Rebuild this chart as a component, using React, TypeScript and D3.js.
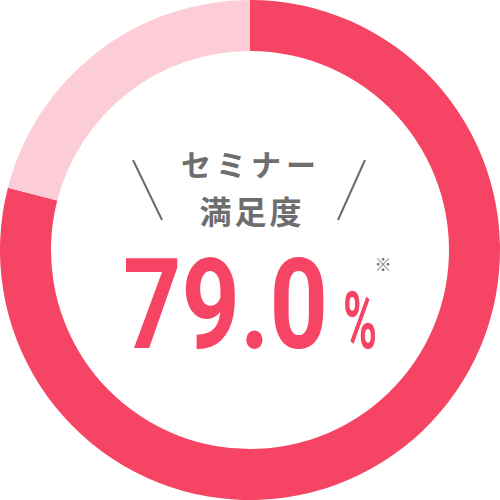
import * as React from 'react'
import * as d3 from 'd3'

// satisfaction share (%), read from the ring
const labels = ['満足', 'その他']
const values = [79.0, 21.0]
const colors = ['#f54464', '#fccdd6']

const titleLines = ['セミナー', '満足度']
const valueText = '79.0'

const App = () => {
    const width = 500
    const height = 500
    const outer = 250
    const inner = 199

    const pie = d3.pie<number>().sort(null).value(d => d)
    const arc = d3.arc<d3.PieArcDatum<number>>().innerRadius(inner).outerRadius(outer)
    const arcs = pie(values)

    return (
        <svg width={width} height={height} style={{ position: 'absolute', left: 0, top: 0 }}>
            <g transform={`translate(${width / 2}, ${height / 2})`}>
                {arcs.map((d, i) => (
                    <path key={labels[i]} d={arc(d) || ''} fill={colors[i]} />
                ))}
            </g>

            <line x1={133} y1={160} x2={162} y2={220} stroke='#6b6b6b' strokeWidth={2} />
            <line x1={365} y1={160} x2={338} y2={220} stroke='#6b6b6b' strokeWidth={2} />

            <text x={251} y={176} textAnchor='middle' fill='#6e6e6e'
                  style={{ fontFamily: '"Noto Sans CJK JP", sans-serif', fontSize: '30px', fontWeight: 700, letterSpacing: '5px' }}>
                {titleLines[0]}
            </text>
            <text x={252} y={224} textAnchor='middle' fill='#6e6e6e'
                  style={{ fontFamily: '"Noto Sans CJK JP", sans-serif', fontSize: '32px', fontWeight: 700, letterSpacing: '3px' }}>
                {titleLines[1]}
            </text>

            <text x={123} y={348} fill={colors[0]} textLength={205} lengthAdjust='spacingAndGlyphs'
                  style={{ fontFamily: 'Roboto, sans-serif', fontSize: '127px', fontWeight: 700 }}>
                {valueText}
            </text>
            <text x={343} y={348} fill={colors[0]} textLength={34} lengthAdjust='spacingAndGlyphs'
                  style={{ fontFamily: 'Roboto, sans-serif', fontSize: '80px', fontWeight: 700 }}>
                %
            </text>
            <text x={383} y={271} textAnchor='middle' fill='#6b6b6b'
                  style={{ fontFamily: '"Noto Sans CJK JP", sans-serif', fontSize: '17px' }}>
                ※
            </text>
        </svg>
    )
}

export default App
